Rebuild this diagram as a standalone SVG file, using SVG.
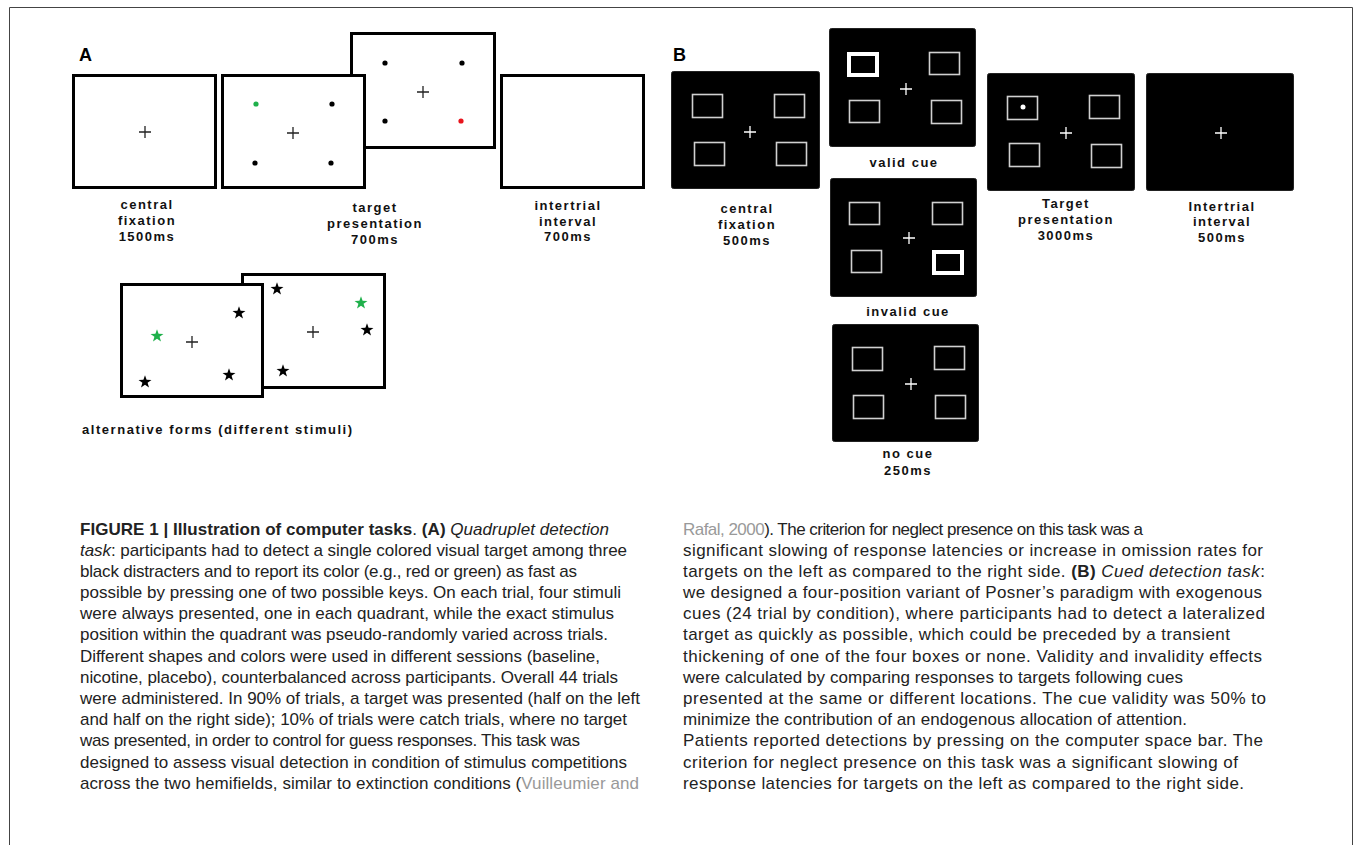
<svg xmlns="http://www.w3.org/2000/svg" width="1355" height="845" viewBox="0 0 1355 845">
<defs>
<style>
.wbox{fill:#fff;stroke:#000;stroke-width:3}
.bbox{fill:#000;stroke:#222;stroke-width:1}
.sq{fill:none;stroke:#d0d0d0;stroke-width:1.6}
.thick{fill:none;stroke:#fff;stroke-width:4}
.xk{stroke:#222;stroke-width:1.3;fill:none}
.xw{stroke:#fff;stroke-width:1.3;fill:none}
.lbl{font-family:"Liberation Sans",Arial,sans-serif;font-weight:bold;font-size:13px;letter-spacing:1.5px;fill:#111;text-anchor:middle}
.pl{font-family:"Liberation Sans",Arial,sans-serif;font-weight:bold;font-size:18px;fill:#000}
.cap{font-family:"Liberation Sans",Arial,sans-serif;font-size:17px;fill:#222}
.b{font-weight:bold}
.i{font-style:italic}
.g{fill:#999}
</style>
<path id="star" d="M0,-6.8 L1.6,-2.2 L6.47,-2.1 L2.59,0.84 L4,5.5 L0,2.72 L-4,5.5 L-2.59,0.84 L-6.47,-2.1 L-1.6,-2.2 Z"/>
<path id="crs" d="M-6,0 H6 M0,-6 V6"/>
</defs>
<rect width="1355" height="845" fill="#fff"/>
<path d="M9.5,845 V7.5 H1352.5 V845" fill="none" stroke="#444" stroke-width="1"/>

<g id="panelA">
<text class="pl" x="79" y="61">A</text>
<g id="a-central-fixation">
<rect class="wbox" x="73.5" y="75.5" width="142" height="112"/>
<use href="#crs" class="xk" x="145" y="132"/>
<text class="lbl"><tspan x="147" y="209">central</tspan><tspan x="147" y="225">fixation</tspan><tspan x="147" y="241">1500ms</tspan></text>
</g>
<g id="a-target-presentation">
<rect class="wbox" x="351.5" y="33.5" width="143" height="114"/>
<circle cx="385" cy="63" r="2.6"/><circle cx="462" cy="63" r="2.6"/>
<circle cx="385" cy="121" r="2.6"/><circle cx="461" cy="121" r="2.6" fill="#e8141c"/>
<use href="#crs" class="xk" x="423" y="92"/>
<rect class="wbox" x="222.5" y="75.5" width="142" height="112"/>
<circle cx="256" cy="104" r="2.6" fill="#1fb04b"/><circle cx="332" cy="104" r="2.6"/>
<circle cx="255" cy="163" r="2.6"/><circle cx="331" cy="163" r="2.6"/>
<use href="#crs" class="xk" x="293" y="133"/>
<text class="lbl"><tspan x="375" y="212">target</tspan><tspan x="375" y="228">presentation</tspan><tspan x="375" y="244">700ms</tspan></text>
</g>
<g id="a-intertrial-interval">
<rect class="wbox" x="501.5" y="75.5" width="142" height="112"/>
<text class="lbl"><tspan x="568" y="210">intertrial</tspan><tspan x="568" y="226">interval</tspan><tspan x="568" y="241">700ms</tspan></text>
</g>
<g id="a-alternative-forms">
<rect class="wbox" x="242.5" y="274.5" width="142" height="113"/>
<use href="#star" x="277" y="289"/><use href="#star" x="361" y="303" fill="#1fb04b"/>
<use href="#star" x="367" y="330"/><use href="#star" x="283" y="371"/>
<use href="#crs" class="xk" x="313" y="332"/>
<rect class="wbox" x="121.5" y="284.5" width="141" height="112"/>
<use href="#star" x="157" y="336" fill="#1fb04b"/><use href="#star" x="239" y="313"/>
<use href="#star" x="145" y="382"/><use href="#star" x="229" y="375"/>
<use href="#crs" class="xk" x="192" y="342"/>
<text class="lbl" style="text-anchor:start;letter-spacing:0.9px" x="82" y="434" textLength="271" lengthAdjust="spacing">alternative forms  (different stimuli)</text>
</g>
</g>

<g id="panelB">
<text class="pl" x="673" y="61">B</text>
<g id="b-central-fixation">
<rect class="bbox" x="671.5" y="71.5" width="148" height="117" rx="2"/>
<rect class="sq" x="692.5" y="94.5" width="30" height="23"/>
<rect class="sq" x="774.5" y="94.5" width="30" height="23"/>
<rect class="sq" x="694.5" y="142.5" width="30" height="23"/>
<rect class="sq" x="776.5" y="142.5" width="30" height="23"/>
<use href="#crs" class="xw" x="750" y="132"/>
<text class="lbl"><tspan x="747" y="213">central</tspan><tspan x="747" y="229">fixation</tspan><tspan x="747" y="245">500ms</tspan></text>
</g>
<g id="b-valid-cue">
<rect class="bbox" x="829.5" y="28.5" width="146" height="118" rx="2"/>
<rect class="thick" x="849" y="54" width="28" height="21"/>
<rect class="sq" x="929.5" y="52.5" width="30" height="22"/>
<rect class="sq" x="849.5" y="100.5" width="30" height="22"/>
<rect class="sq" x="931.5" y="100.5" width="30" height="23"/>
<use href="#crs" class="xw" x="906" y="89"/>
<text class="lbl" x="904" y="167">valid cue</text>
</g>
<g id="b-invalid-cue">
<rect class="bbox" x="830.5" y="178.5" width="146" height="118" rx="2"/>
<rect class="sq" x="849.5" y="202.5" width="30" height="22"/>
<rect class="sq" x="932.5" y="202.5" width="30" height="22"/>
<rect class="sq" x="851.5" y="250.5" width="30" height="22"/>
<rect class="thick" x="934" y="252" width="28" height="21"/>
<use href="#crs" class="xw" x="909" y="238"/>
<text class="lbl" x="908" y="316">invalid cue</text>
</g>
<g id="b-no-cue">
<rect class="bbox" x="832.5" y="324.5" width="146" height="117" rx="2"/>
<rect class="sq" x="852.5" y="347.5" width="30" height="23"/>
<rect class="sq" x="934.5" y="346.5" width="30" height="23"/>
<rect class="sq" x="853.5" y="395.5" width="30" height="23"/>
<rect class="sq" x="935.5" y="395.5" width="30" height="23"/>
<use href="#crs" class="xw" x="911" y="384"/>
<text class="lbl"><tspan x="908" y="458">no cue</tspan><tspan x="908" y="475">250ms</tspan></text>
</g>
<g id="b-target-presentation">
<rect class="bbox" x="987.5" y="73.5" width="147" height="117" rx="2"/>
<rect class="sq" x="1007.5" y="96.5" width="30" height="23"/>
<circle cx="1023" cy="107" r="2.5" fill="#fff"/>
<rect class="sq" x="1089.5" y="95.5" width="30" height="23"/>
<rect class="sq" x="1009.5" y="143.5" width="30" height="23"/>
<rect class="sq" x="1091.5" y="144.5" width="30" height="23"/>
<use href="#crs" class="xw" x="1066" y="133"/>
<text class="lbl"><tspan x="1066" y="208">Target</tspan><tspan x="1066" y="224">presentation</tspan><tspan x="1066" y="240">3000ms</tspan></text>
</g>
<g id="b-intertrial-interval">
<rect class="bbox" x="1146.5" y="73.5" width="147" height="117" rx="2"/>
<use href="#crs" class="xw" x="1221" y="133"/>
<text class="lbl"><tspan x="1222" y="211">Intertrial</tspan><tspan x="1222" y="226">interval</tspan><tspan x="1222" y="242">500ms</tspan></text>
</g>
</g>

<g id="connectors"/>

<g id="caption">
<text class="cap" x="80" y="535" textLength="529" lengthAdjust="spacing"><tspan class="b">FIGURE 1 | Illustration of computer tasks</tspan>. <tspan class="b">(A)</tspan> <tspan class="i">Quadruplet detection</tspan></text>
<text class="cap" x="80" y="556" textLength="547" lengthAdjust="spacing"><tspan class="i">task</tspan>: participants had to detect a single colored visual target among three</text>
<text class="cap" x="80" y="577" textLength="497" lengthAdjust="spacing">black distracters and to report its color (e.g., red or green) as fast as</text>
<text class="cap" x="80" y="598" textLength="541" lengthAdjust="spacing">possible by pressing one of two possible keys. On each trial, four stimuli</text>
<text class="cap" x="80" y="619" textLength="534" lengthAdjust="spacing">were always presented, one in each quadrant, while the exact stimulus</text>
<text class="cap" x="80" y="640" textLength="528" lengthAdjust="spacing">position within the quadrant was pseudo-randomly varied across trials.</text>
<text class="cap" x="80" y="662" textLength="520" lengthAdjust="spacing">Different shapes and colors were used in different sessions (baseline,</text>
<text class="cap" x="80" y="683" textLength="538" lengthAdjust="spacing">nicotine, placebo), counterbalanced across participants. Overall 44 trials</text>
<text class="cap" x="80" y="704" textLength="560" lengthAdjust="spacing">were administered. In 90% of trials, a target was presented (half on the left</text>
<text class="cap" x="80" y="725" textLength="547" lengthAdjust="spacing">and half on the right side); 10% of trials were catch trials, where no target</text>
<text class="cap" x="80" y="746" textLength="500" lengthAdjust="spacing">was presented, in order to control for guess responses. This task was</text>
<text class="cap" x="80" y="768" textLength="547" lengthAdjust="spacing">designed to assess visual detection in condition of stimulus competitions</text>
<text class="cap" x="80" y="789" textLength="559" lengthAdjust="spacing">across the two hemifields, similar to extinction conditions (<tspan class="g">Vuilleumier and</tspan></text>

<text class="cap" x="683" y="535" textLength="460" lengthAdjust="spacing"><tspan class="g">Rafal, 2000</tspan>). The criterion for neglect presence on this task was a</text>
<text class="cap" x="683" y="556" textLength="580" lengthAdjust="spacing">significant slowing of response latencies or increase in omission rates for</text>
<text class="cap" x="683" y="577" textLength="582" lengthAdjust="spacing">targets on the left as compared to the right side. <tspan class="b">(B)</tspan> <tspan class="i">Cued detection task</tspan>:</text>
<text class="cap" x="683" y="598" textLength="579" lengthAdjust="spacing">we designed a four-position variant of Posner’s paradigm with exogenous</text>
<text class="cap" x="683" y="619" textLength="582" lengthAdjust="spacing">cues (24 trial by condition), where participants had to detect a lateralized</text>
<text class="cap" x="683" y="640" textLength="547" lengthAdjust="spacing">target as quickly as possible, which could be preceded by a transient</text>
<text class="cap" x="683" y="662" textLength="579" lengthAdjust="spacing">thickening of one of the four boxes or none. Validity and invalidity effects</text>
<text class="cap" x="683" y="683" textLength="500" lengthAdjust="spacing">were calculated by comparing responses to targets following cues</text>
<text class="cap" x="683" y="704" textLength="583" lengthAdjust="spacing">presented at the same or different locations. The cue validity was 50% to</text>
<text class="cap" x="683" y="725" textLength="504" lengthAdjust="spacing">minimize the contribution of an endogenous allocation of attention.</text>
<text class="cap" x="683" y="746" textLength="580" lengthAdjust="spacing">Patients reported detections by pressing on the computer space bar. The</text>
<text class="cap" x="683" y="768" textLength="555" lengthAdjust="spacing">criterion for neglect presence on this task was a significant slowing of</text>
<text class="cap" x="683" y="789" textLength="561" lengthAdjust="spacing">response latencies for targets on the left as compared to the right side.</text>
</g>
</svg>
